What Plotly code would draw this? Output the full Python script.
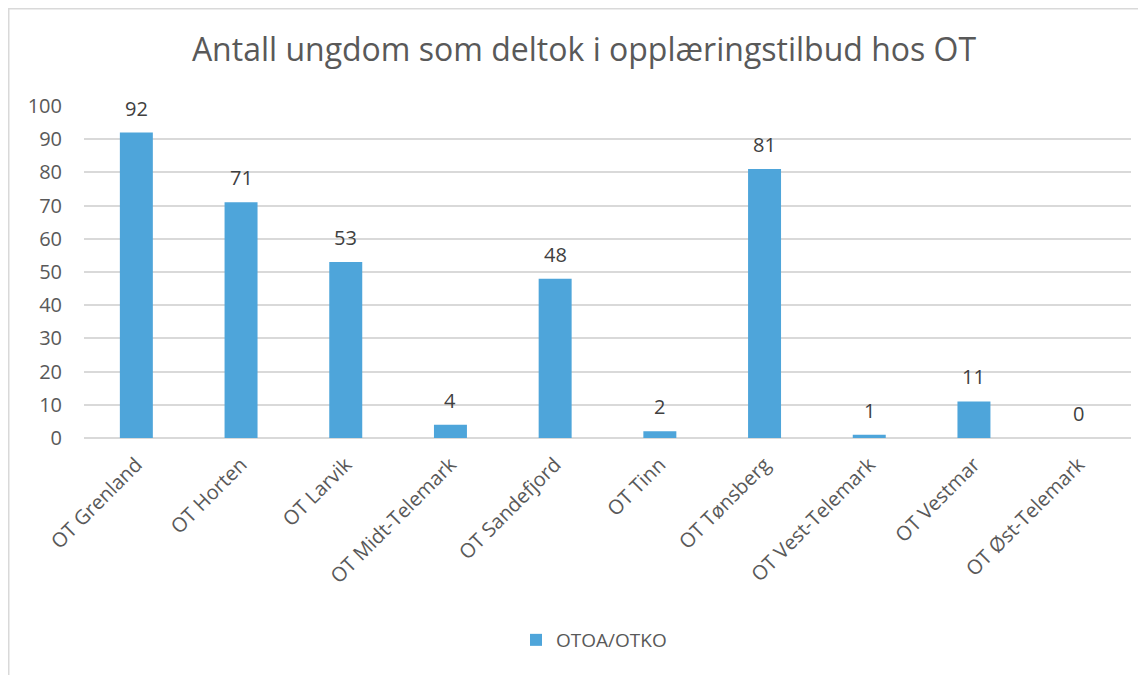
import plotly.graph_objects as go

categories = ["OT Grenland", "OT Horten", "OT Larvik", "OT Midt-Telemark", "OT Sandefjord",
              "OT Tinn", "OT Tønsberg", "OT Vest-Telemark", "OT Vestmar", "OT Øst-Telemark"]
values = [92, 71, 53, 4, 48, 2, 81, 1, 11, 0]
series_name = "OTOA/OTKO"
y_ticks = [0, 10, 20, 30, 40, 50, 60, 70, 80, 90, 100]

# page body has an 8px offset; positions below are in figure coordinates
OFF = 8
W, H = 1146, 675
L = 84 - OFF
T = 106 - OFF
R = W - (1131 - OFF)
B = H - (438 - OFF)
pw, ph = W - L - R, H - T - B

fig = go.Figure()
fig.add_trace(go.Bar(
    x=categories, y=values, name=series_name,
    marker=dict(color="#4EA5DA", line=dict(width=0)),
    width=0.315,
    showlegend=True,
))

for c, v in zip(categories, values):
    fig.add_annotation(x=c, y=v, text=str(v), showarrow=False,
                       yanchor="bottom", yshift=9,
                       font=dict(family="Open Sans", size=20, color="#404040"))

fig.update_layout(
    width=W, height=H,
    margin=dict(l=L, r=R, t=T, b=B),
    paper_bgcolor="white", plot_bgcolor="white",
    title=dict(text="Antall ungdom som deltok i opplæringstilbud hos OT",
               x=(584 - OFF) / W, xanchor="center",
               y=1 - (50 - OFF) / H, yanchor="middle",
               font=dict(family="Open Sans", size=32, color="#595959")),
    font=dict(family="Open Sans", color="#595959"),
    xaxis=dict(tickangle=-45, tickfont=dict(size=20, color="#595959"),
               showline=False, showgrid=False, ticks="", ticklabelstandoff=10),
    yaxis=dict(range=[0, 100], tickvals=y_ticks, tickfont=dict(size=20, color="#595959"),
               showgrid=True, gridcolor="#D9D9D9", gridwidth=1.5,
               zeroline=True, zerolinecolor="#D9D9D9", zerolinewidth=1.5,
               showline=False, ticks="", ticklabelstandoff=21),
    legend=dict(orientation="h", x=(594 - OFF - L) / pw, xanchor="center",
                y=-(640 - OFF - T - ph) / ph, yanchor="middle",
                font=dict(size=19, color="#595959"), itemwidth=30),
    showlegend=True,
)

fig.add_shape(type="rect", xref="paper", yref="paper",
              x0=(0.75 - L) / pw, x1=(W + 5 - L) / pw,
              y0=-(H + 5 - T - ph) / ph, y1=1 + (T - 0.75) / ph,
              line=dict(color="#D9D9D9", width=1.5), fillcolor="rgba(0,0,0,0)", layer="below")

fig.write_html("out.html")
